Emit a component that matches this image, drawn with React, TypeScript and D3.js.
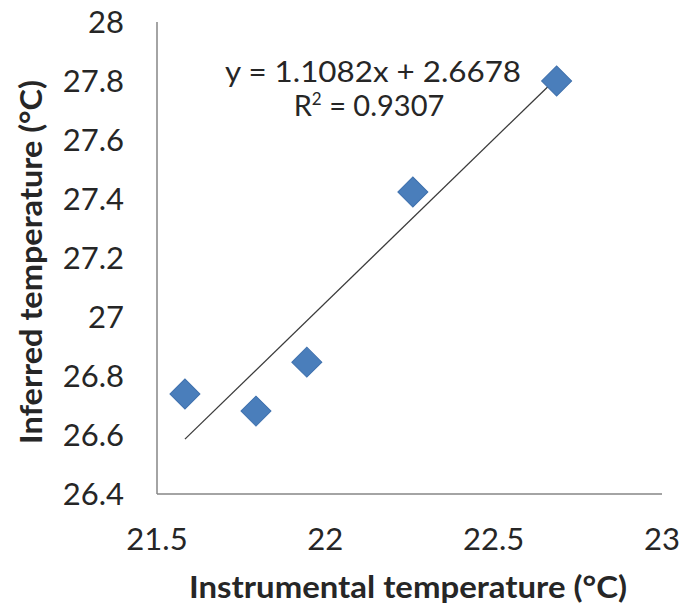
import React from "react";
import * as d3 from "d3";

const instrumental = [21.583, 21.794, 21.945, 22.26, 22.687];
const inferred = [26.739, 26.681, 26.847, 27.424, 27.8];
const xTicks = [21.5, 22, 22.5, 23];
const xTickLabels = ["21.5", "22", "22.5", "23"];
const yTicks = [26.4, 26.6, 26.8, 27, 27.2, 27.4, 27.6, 27.8, 28];
const yTickLabels = ["26.4", "26.6", "26.8", "27", "27.2", "27.4", "27.6", "27.8", "28"];
const slope = 1.1082;
const intercept = 2.6678;
const equationText = "y = 1.1082x + 2.6678";
const r2Value = "0.9307";
const xTitle = "Instrumental temperature (\u00B0C)";
const yTitle = "Inferred temperature (\u00B0C)";

const W = 696;
const H = 611;
const FONT = "Lato, 'Open Sans', sans-serif";
const TEXT = "#262626";

export default function App() {
  const x = d3.scaleLinear().domain([21.5, 23]).range([157, 662]);
  const y = d3.scaleLinear().domain([26.4, 28]).range([494, 22]);
  const pts = instrumental.map((v, i) => ({ x: v, y: inferred[i] }));
  const diamond = d3.symbol().type(d3.symbolSquare).size(450)();
  const xMin = d3.min(instrumental) as number;
  const xMax = d3.max(instrumental) as number;
  const trend = d3
    .line<number>()
    .x((d) => x(d))
    .y((d) => y(slope * d + intercept))([xMin, xMax]);

  return (
    <svg
      width={W}
      height={H}
      style={{ position: "absolute", left: 0, top: 0, background: "#fff" }}
      fontFamily={FONT}
    >
      <rect width={W} height={H} fill="#fff" />
      {/* axes */}
      <line x1={x(21.5)} x2={x(21.5)} y1={y(28)} y2={y(26.4)} stroke="#868686" strokeWidth={1.5} />
      <line x1={x(21.5)} x2={x(23)} y1={y(26.4)} y2={y(26.4)} stroke="#868686" strokeWidth={1.5} />
      {/* y tick labels */}
      {yTicks.map((t, i) => (
        <text key={"y" + i} x={124} y={y(t) + 11} textAnchor="end" fontSize={31} fill={TEXT}>
          {yTickLabels[i]}
        </text>
      ))}
      {/* x tick labels */}
      {xTicks.map((t, i) => (
        <text key={"x" + i} x={x(t)} y={550} textAnchor="middle" fontSize={31} fill={TEXT}>
          {xTickLabels[i]}
        </text>
      ))}
      {/* trendline */}
      <path d={trend || ""} fill="none" stroke="#3a3a3a" strokeWidth={1.3} />
      {/* markers */}
      {pts.map((p, i) => (
        <path
          key={"p" + i}
          d={diamond || ""}
          transform={`translate(${x(p.x)},${y(p.y)}) rotate(45)`}
          fill="#4A7EBB"
          stroke="#3F71AD"
          strokeWidth={1}
        />
      ))}
      {/* equation */}
      <text
        x={373}
        y={82}
        textAnchor="middle"
        fontSize={29}
        fill={TEXT}
        textLength={296}
        lengthAdjust="spacingAndGlyphs"
      >
        {equationText}
      </text>
      <text x={369} y={116} textAnchor="middle" fontSize={29} fill={TEXT}>
        R<tspan fontSize={17} dy={-11}>2</tspan>
        <tspan dy={11}>{" = " + r2Value}</tspan>
      </text>
      {/* axis titles */}
      <text
        x={408}
        y={598}
        textAnchor="middle"
        fontSize={30}
        fontWeight="bold"
        fill={TEXT}
        textLength={438}
        lengthAdjust="spacingAndGlyphs"
      >
        {xTitle}
      </text>
      <text
        transform={`translate(42,262) rotate(-90)`}
        textAnchor="middle"
        fontSize={30}
        fontWeight="bold"
        fill={TEXT}
        textLength={364}
        lengthAdjust="spacingAndGlyphs"
      >
        {yTitle}
      </text>
    </svg>
  );
}
